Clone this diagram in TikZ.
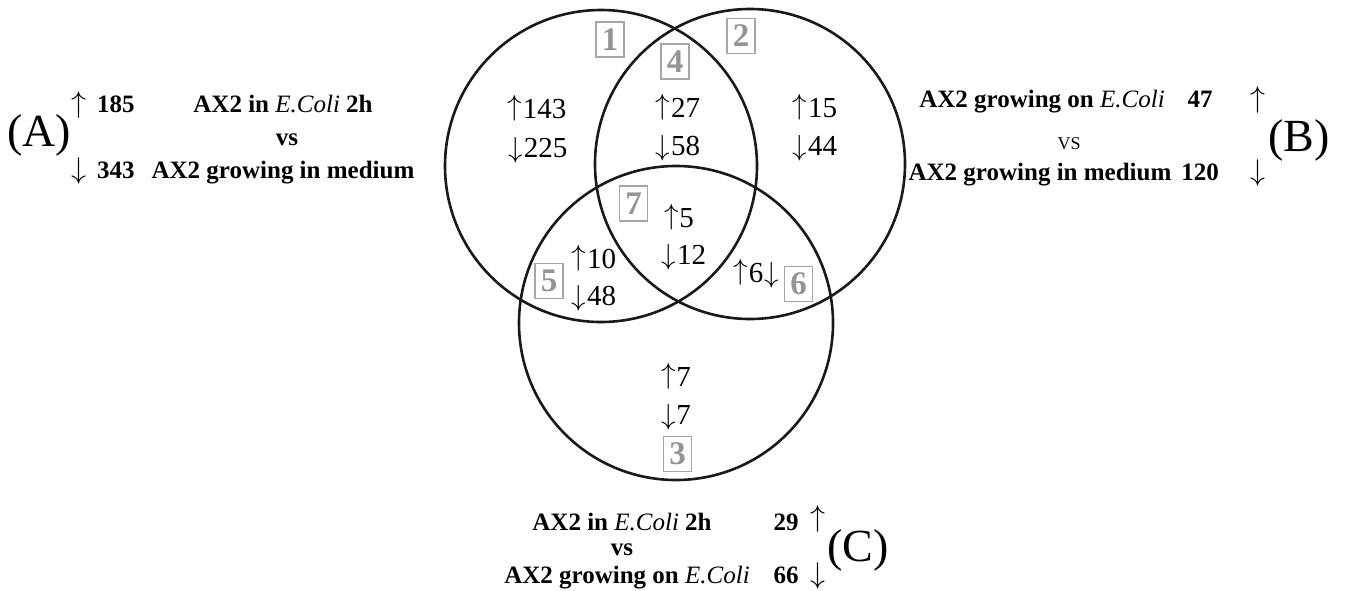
\RequirePackage{fix-cm}
\documentclass[tikz,border=0pt]{standalone}
\usepackage{fontspec}
\setmainfont{Liberation Serif}
\newcommand\upar{\raisebox{0.1em}{$\uparrow$}\kern0.03em}
\newcommand\dnar{$\downarrow$\kern0.03em}
\begin{document}
\begin{tikzpicture}[x=1pt,y=-1pt,
  venn/.style={draw=black!90,line width=2.6pt},
  num/.style={font=\fontsize{29}{29}\selectfont,inner sep=0pt,anchor=base},
  tag/.style={draw=black!35,line width=1.6pt,text=black!42,minimum width=28pt,minimum height=35pt,inner sep=0pt,font=\fontsize{33}{33}\selectfont\bfseries},
  lab/.style={font=\fontsize{25}{25}\selectfont\bfseries,inner sep=0pt,anchor=base},
  arr/.style={font=\fontsize{30}{30}\selectfont,inner sep=0pt,anchor=base},
  big/.style={font=\fontsize{46}{46}\selectfont,inner sep=0pt}]
\useasboundingbox (0,0) rectangle (1347,590);
% circles
\node[venn,circle,minimum size=312pt,inner sep=0pt] (cA) at (601,166) {};
\node[venn,circle,minimum size=310pt,inner sep=0pt] (cB) at (750,164) {};
\node[venn,circle,minimum size=314pt,inner sep=0pt] (cC) at (676,323) {};
% region tags
\node[tag] (t1) at (610,39.5) {1};
\node[tag] (t2) at (741,36) {2};
\node[tag] (t3) at (677.5,454) {3};
\node[tag] (t4) at (675,61.5) {4};
\node[tag] (t5) at (549,281) {5};
\node[tag] (t6) at (798.5,284) {6};
\node[tag] (t7) at (633.5,203.5) {7};
% counts
\node[num] (u1) at (537,118) {\upar143};
\node[num] (d1) at (538,157) {\dnar225};
\node[num] (u4) at (678,117) {\upar27};
\node[num] (d4) at (678,155) {\dnar58};
\node[num] (u2) at (815,117) {\upar15};
\node[num] (d2) at (815,155) {\dnar44};
\node[num] (u7) at (679,227) {\upar5};
\node[num] (d7) at (684,264) {\dnar12};
\node[num] (u5) at (594,268) {\upar10};
\node[num] (d5) at (594,305) {\dnar48};
\node[num] (ud6) at (756,282) {\upar6\kern0.03em$\downarrow$};
\node[num] (u3) at (676,386) {\upar7};
\node[num] (d3) at (676,424) {\dnar7};
% label A
\node[big] (A) at (39,135) {(A)};
\node[arr] (Aup) at (79,112) {$\uparrow$};
\node[arr] (Adn) at (79,178) {$\downarrow$};
\node[lab,anchor=base west] (A185) at (97,112) {185};
\node[lab,anchor=base west] (A343) at (97,178) {343};
\node[lab] (A1) at (283,112) {AX2 in \textit{\mdseries E.Coli} 2h};
\node[lab] (Avs) at (287,145) {vs};
\node[lab] (A2) at (283,178) {AX2 growing in medium};
% label B
\node[lab] (B1) at (1042,107) {AX2 growing on \textit{\mdseries E.Coli}};
\node[font=\fontsize{18}{18}\selectfont,inner sep=0pt,anchor=base] (Bvs) at (1069,149) {VS};
\node[lab] (B2) at (1040,180) {AX2 growing in medium};
\node[lab] (B47) at (1200,107) {47};
\node[lab] (B120) at (1200,180) {120};
\node[arr] (Bup) at (1258,107) {$\uparrow$};
\node[arr] (Bdn) at (1258,180) {$\downarrow$};
\node[big] (B) at (1299,140) {(B)};
% label C
\node[lab] (C1) at (622,530) {AX2 in \textit{\mdseries E.Coli} 2h};
\node[lab] (Cvs) at (622,555) {vs};
\node[lab] (C2) at (627,583) {AX2 growing on \textit{\mdseries E.Coli}};
\node[lab] (C29) at (786,530) {29};
\node[lab] (C66) at (786,583) {66};
\node[arr] (Cup) at (818,526) {$\uparrow$};
\node[arr] (Cdn) at (818,583) {$\downarrow$};
\node[big] (C) at (858,550) {(C)};
\end{tikzpicture}
\end{document}
